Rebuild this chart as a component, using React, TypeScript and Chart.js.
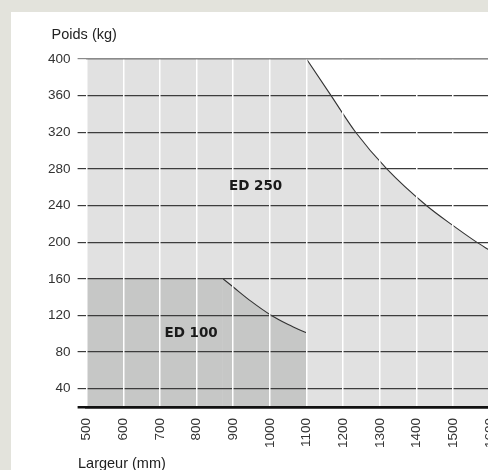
import React, { useEffect, useRef } from 'react';
import { Chart, registerables } from 'chart.js';
Chart.register(...registerables);

// ED 250 envelope: flat part then decreasing curve (width in mm, weight in kg)
const ed250FlatWidths = [500, 1100];
const ed250FlatWeights = [400, 400];
const ed250CurveWidths = [1100, 1167, 1234, 1319, 1427, 1500, 1564, 1600];
const ed250CurveWeights = [400, 360, 320, 280, 240, 218, 200, 191];

// ED 100 envelope
const ed100FlatWidths = [500, 872];
const ed100FlatWeights = [160, 160];
const ed100CurveWidths = [872, 900, 950, 1000, 1050, 1100];
const ed100CurveWeights = [160, 151, 135, 121, 110, 101];

// area labels
const areaLabels = ['ED 250', 'ED 100'];
const areaLabelWidths = [961, 785];
const areaLabelWeights = [261, 100.5];

const yTitle = 'Poids (kg)';
const xTitle = 'Largeur (mm)';
const xMin = 500;
const xMax = 1600;
const xStep = 100;
const yMin = 20;
const yMax = 400;
const yStep = 40;

const colorED250 = '#e1e1e1';
const colorED100 = '#c6c7c6';
const curveColor = '#333333';

const zip = (xs: number[], ys: number[]) => xs.map((x, i) => ({ x, y: ys[i] }));

const textPlugin = {
  id: 'textPlugin',
  afterDraw(chart: any) {
    const { ctx, chartArea, scales } = chart;
    ctx.save();
    ctx.fillStyle = '#222';
    ctx.font = '14.5px "Liberation Sans", Arial, sans-serif';
    ctx.textAlign = 'left';
    ctx.textBaseline = 'alphabetic';
    ctx.fillText(yTitle, chartArea.left - 35, chartArea.top - 20.5);
    ctx.fillText(xTitle, chartArea.left - 8.6, chartArea.bottom + 61.4);
    ctx.font = 'bold 13.5px "DejaVu Sans", sans-serif';
    ctx.fillStyle = '#1a1a1a';
    ctx.textAlign = 'center';
    ctx.textBaseline = 'middle';
    areaLabels.forEach((t, i) => {
      ctx.fillText(t, scales.x.getPixelForValue(areaLabelWidths[i]), scales.y.getPixelForValue(areaLabelWeights[i]));
    });
    ctx.restore();
  },
};

export default function App() {
  const ref = useRef<HTMLCanvasElement>(null);
  useEffect(() => {
    if (!ref.current) return;
    const base = {
      pointRadius: 0,
      pointHoverRadius: 0,
      fill: 'start',
    };
    const chart = new Chart(ref.current, {
      type: 'line',
      data: {
        datasets: [
          { ...base, label: 'ED 100', data: zip(ed100FlatWidths, ed100FlatWeights), backgroundColor: colorED100, borderWidth: 0, borderColor: colorED100, tension: 0 },
          { ...base, label: 'ED 100', data: zip(ed100CurveWidths, ed100CurveWeights), backgroundColor: colorED100, borderWidth: 1.1, borderColor: curveColor, cubicInterpolationMode: 'monotone' },
          { ...base, label: 'ED 250', data: zip(ed250FlatWidths, ed250FlatWeights), backgroundColor: colorED250, borderWidth: 0, borderColor: colorED250, tension: 0 },
          { ...base, label: 'ED 250', data: zip(ed250CurveWidths, ed250CurveWeights), backgroundColor: colorED250, borderWidth: 1.1, borderColor: curveColor, cubicInterpolationMode: 'monotone' },
        ] as any,
      },
      options: {
        animation: false,
        responsive: false,
        events: [],
        layout: { padding: { left: 25, top: 47, right: 15.8, bottom: 12 } },
        plugins: { legend: { display: false }, tooltip: { enabled: false }, title: { display: false } },
        scales: {
          x: {
            type: 'linear',
            position: 'bottom',
            min: xMin,
            max: xMax,
            afterFit: (s: any) => { s.height = 51; },
            grid: { color: '#ffffff', lineWidth: 1.5, drawTicks: false, z: 2 },
            border: { display: true, color: '#111111', width: 2.5, z: 3 },
            ticks: {
              stepSize: xStep,
              autoSkip: false,
              minRotation: 90,
              maxRotation: 90,
              padding: 11,
              color: '#333',
              font: { size: 13.5, family: '"Liberation Sans", Arial, sans-serif' },
              callback: (v: any) => String(v),
            },
          },
          x2: {
            type: 'linear',
            position: 'top',
            min: xMin,
            max: xMax,
            afterFit: (s: any) => { s.height = 0; },
            grid: { display: false, drawTicks: false },
            ticks: { display: false },
            border: { display: true, color: '#8a8a8a', width: 1.5, z: 3 },
          },
          y: {
            type: 'linear',
            min: yMin,
            max: yMax,
            afterFit: (s: any) => { s.width = 50.6; },
            grid: {
              z: 1,
              tickLength: 9,
              color: (c: any) => (c.tick && c.tick.value === yMin ? '#111111' : c.tick && c.tick.value === yMax ? '#8a8a8a' : '#3c3c3c'),
              lineWidth: (c: any) => (c.tick && c.tick.value === yMin ? 2.5 : 1.2),
            },
            border: { display: false },
            ticks: {
              stepSize: yStep,
              padding: 7,
              color: '#333',
              font: { size: 13.5, family: '"Liberation Sans", Arial, sans-serif' },
              callback: (v: any) => (v === yMin ? '' : String(v)),
            },
          },
        },
      } as any,
      plugins: [textPlugin],
    });
    return () => chart.destroy();
  }, []);

  return (
    <div style={{ position: 'fixed', left: 0, top: 0, width: 488, height: 470, overflow: 'hidden', background: '#e3e3dc' }}>
      <div style={{ position: 'absolute', left: 11, top: 12, width: 506, height: 458, background: '#ffffff' }}>
        <canvas ref={ref} width={506} height={458} style={{ display: 'block' }} />
      </div>
    </div>
  );
}
